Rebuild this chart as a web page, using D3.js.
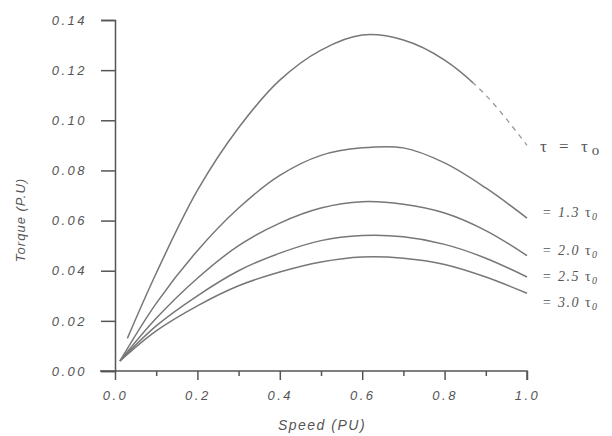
<!DOCTYPE html>
<html>
<head>
<meta charset="utf-8">
<script src="https://cdn.jsdelivr.net/npm/d3@7"></script>
<style>
  body { margin: 0; background: #fff; }
  text { font-family: "Liberation Sans", Arial, sans-serif; font-style: italic; fill: #555; }
</style>
</head>
<body>
<div id="chart"></div>
<script>
const width = 612;
const height = 436;

// speed (PU) sample points
const speed = [0.1, 0.2, 0.3, 0.4, 0.5, 0.6, 0.7, 0.8, 0.9, 1.0];

// torque (PU) for each time constant
const tau10 = [0.039, 0.072, 0.097, 0.116, 0.128, 0.134, 0.132, 0.124, 0.110, 0.090];
const tau13 = [0.027, 0.048, 0.065, 0.078, 0.086, 0.089, 0.089, 0.083, 0.073, 0.061];
const tau20 = [0.021, 0.037, 0.050, 0.059, 0.065, 0.0675, 0.0665, 0.063, 0.056, 0.046];
const tau25 = [0.018, 0.030, 0.040, 0.047, 0.052, 0.054, 0.0535, 0.0505, 0.045, 0.0375];
const tau30 = [0.016, 0.026, 0.034, 0.0395, 0.0435, 0.0455, 0.045, 0.0425, 0.0375, 0.031];

const start10 = [0.03, 0.013];   // first curve starts a bit off the origin
const startOthers = [0.012, 0.004];
const dashFrom = 0.87;           // first curve is dashed past this speed

const labels = ["= 1.3 ", "= 2.0 ", "= 2.5 ", "= 3.0 "];
const yTicks = [0, 0.02, 0.04, 0.06, 0.08, 0.10, 0.12, 0.14];
const xTicks = [0, 0.2, 0.4, 0.6, 0.8, 1.0];
const xMinor = [0.1, 0.3, 0.5, 0.7, 0.9];

const svg = d3.select("#chart")
  .append("svg")
  .attr("width", width)
  .attr("height", height);

const xScale = d3.scaleLinear().domain([0, 1]).range([115, 527]);
const yScale = d3.scaleLinear().domain([0, 0.14]).range([371, 20]);

const line = d3.line()
  .x(d => xScale(d[0]))
  .y(d => yScale(d[1]))
  .curve(d3.curveCatmullRom.alpha(0.5));

const lineColor = "#777";

// curves
const others = [tau13, tau20, tau25, tau30];
others.forEach(function(vals) {
  const pts = [startOthers].concat(speed.map((s, i) => [s, vals[i]]));
  svg.append("path")
    .attr("d", line(pts))
    .attr("fill", "none")
    .attr("stroke", lineColor)
    .attr("stroke-width", 1.5);
});

// first curve: solid then dashed, via clip rects
const pts10 = [start10].concat(speed.map((s, i) => [s, tau10[i]]));
const defs = svg.append("defs");
defs.append("clipPath").attr("id", "solidClip")
  .append("rect").attr("x", 0).attr("y", 0)
  .attr("width", xScale(dashFrom)).attr("height", height);
defs.append("clipPath").attr("id", "dashClip")
  .append("rect").attr("x", xScale(dashFrom)).attr("y", 0)
  .attr("width", width).attr("height", height);

svg.append("path")
  .attr("d", line(pts10))
  .attr("fill", "none")
  .attr("stroke", lineColor)
  .attr("stroke-width", 1.5)
  .attr("clip-path", "url(#solidClip)");

svg.append("path")
  .attr("d", line(pts10))
  .attr("fill", "none")
  .attr("stroke", "#999")
  .attr("stroke-width", 1.3)
  .attr("stroke-dasharray", "5,5")
  .attr("clip-path", "url(#dashClip)");

// axes
const axisColor = "#555";
const yAxis = d3.axisLeft(yScale)
  .tickValues(yTicks)
  .tickSize(14)
  .tickPadding(14)
  .tickFormat(d3.format(".2f"));

const gy = svg.append("g")
  .attr("transform", "translate(" + xScale(0) + ",0)")
  .call(yAxis);

const xAxis = d3.axisBottom(xScale)
  .tickValues(xTicks)
  .tickSize(9)
  .tickPadding(11)
  .tickFormat(d3.format(".1f"));

const gx = svg.append("g")
  .attr("transform", "translate(0," + yScale(0) + ")")
  .call(xAxis);

const gxm = svg.append("g")
  .attr("transform", "translate(0," + yScale(0) + ")")
  .call(d3.axisBottom(xScale).tickValues(xMinor).tickSize(5).tickFormat(""));

[gx, gy, gxm].forEach(function(g) {
  g.select(".domain").attr("stroke", axisColor).attr("stroke-width", 1.5);
  g.selectAll(".tick line").attr("stroke", axisColor).attr("stroke-width", 1.5);
  g.selectAll(".tick text")
    .attr("font-size", 13)
    .style("letter-spacing", "2.5px")
    .style("font-family", "'Liberation Sans', Arial, sans-serif")
    .style("font-style", "italic")
    .attr("fill", "#555");
});
gxm.select(".domain").remove();
gx.select(".domain").attr("d", "M100,0H" + xScale(1) + "V9");

// axis titles
svg.append("text")
  .attr("x", 322)
  .attr("y", 430)
  .attr("text-anchor", "middle")
  .attr("font-size", 14)
  .style("letter-spacing", "1.5px")
  .text("Speed (PU)");

svg.append("text")
  .attr("transform", "translate(25,220) rotate(-90)")
  .attr("text-anchor", "middle")
  .attr("font-size", 13)
  .style("letter-spacing", "1px")
  .text("Torque (P.U)");

// curve labels
const topLabel = svg.append("text")
  .attr("x", xScale(1) + 13)
  .attr("y", yScale(tau10[tau10.length - 1]) + 7)
  .attr("font-size", 17)
  .style("letter-spacing", "4px")
  .style("font-family", "'Liberation Serif', serif")
  .style("font-style", "normal");
topLabel.append("tspan").text("τ = τ");
topLabel.append("tspan").attr("dy", 3).attr("font-size", 15).text("o");

const labelDy = [-1, -1, 4, 14];
others.forEach(function(vals, i) {
  const t = svg.append("text")
    .attr("x", xScale(1) + 15)
    .attr("y", yScale(vals[vals.length - 1]) + labelDy[i])
    .attr("font-size", 14)
    .style("letter-spacing", "1.5px")
    .style("font-family", "'Liberation Serif', serif");
  t.append("tspan").text(labels[i]);
  t.append("tspan").style("font-style", "normal").text("τ");
  t.append("tspan").attr("dy", 3).attr("font-size", 10).text("0");
});
</script>
</body>
</html>
